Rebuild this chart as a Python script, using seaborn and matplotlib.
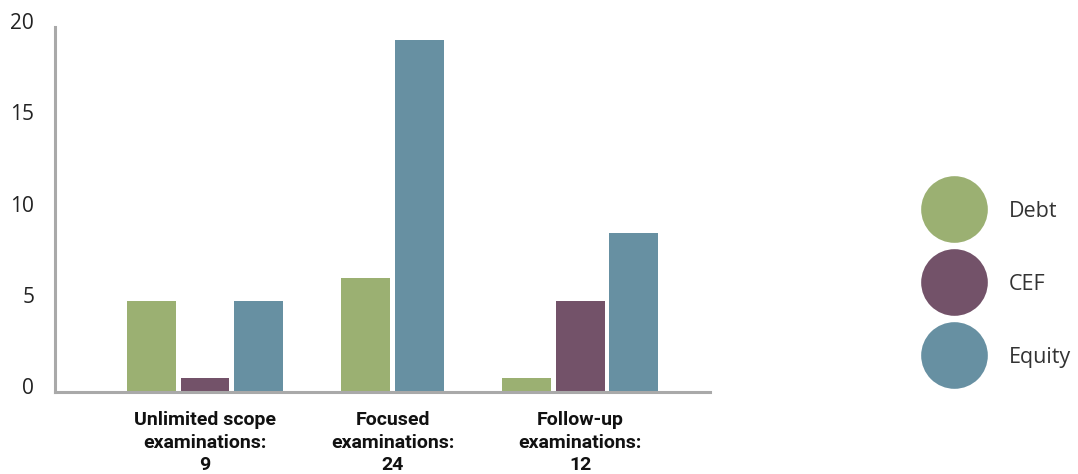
import matplotlib
matplotlib.use("Agg")
import matplotlib.pyplot as plt
import matplotlib.transforms as mtransforms
from matplotlib.lines import Line2D
import seaborn as sns
import pandas as pd
import numpy as np

# ---- data ----
groups = ["Unlimited scope\nexaminations:\n9",
          "Focused\nexaminations:\n24",
          "Follow-up\nexaminations:\n12"]
series = ["Debt", "CEF", "Equity"]
debt = [5.0, 6.25, 0.75]
cef = [0.75, None, 5.0]          # no CEF bar for focused examinations
equity = [5.0, 19.3, 8.7]
colors = ["#9bb072", "#735269", "#6790a2"]
yticks = [0, 5, 10, 15, 20]

sns.set_theme(style="white")
plt.rcParams["font.family"] = ["Open Sans", "DejaVu Sans"]

# build long table; bars present in a group are packed side by side around the group centre
step = 0.285
rows = []
values = {"Debt": debt, "CEF": cef, "Equity": equity}
for gi, g in enumerate(groups):
    present = [s for s in series if values[s][gi] is not None]
    n = len(present)
    for k, s in enumerate(present):
        rows.append({"pos": gi + (k - (n - 1) / 2) * step,
                     "value": values[s][gi], "series": s})
df = pd.DataFrame(rows)

fig = plt.figure(figsize=(10.78, 4.74), dpi=100)
ax = fig.add_axes([55 / 1078, 1 - 392 / 474, (710 - 55) / 1078, 365 / 474])

sns.barplot(data=df, x="pos", y="value", hue="series", hue_order=series,
            palette=colors, native_scale=True, dodge=False, width=0.916,
            saturation=1, legend=False, ax=ax, linewidth=0)

ax.set_xlim(-0.8, 2.693)
ax.set_ylim(0, 20)
ax.set_yticks(yticks)
ax.set_yticklabels([str(t) for t in yticks], fontsize=15, color="#222222")
ax.set_xticks([0, 1, 2])
ax.set_xticklabels(groups, fontsize=14, fontweight="bold", color="#111111",
                   linespacing=1.32, family=["Roboto", "DejaVu Sans"])
ax.tick_params(axis="y", length=0, pad=15)
ax.tick_params(axis="x", length=0, pad=14)
off = mtransforms.ScaledTranslation(0, 6 / 100, fig.dpi_scale_trans)
for lab in ax.get_yticklabels():
    lab.set_transform(lab.get_transform() + off)
ax.set_xlabel("")
ax.set_ylabel("")
for s in ["top", "right"]:
    ax.spines[s].set_visible(False)
for s in ["left", "bottom"]:
    ax.spines[s].set_color("#a9a9a9")
    ax.spines[s].set_linewidth(2.2)
ax.grid(False)

handles = [Line2D([], [], marker="o", linestyle="", markersize=48,
                  markerfacecolor=c, markeredgewidth=0) for c in colors]
fig.legend(handles, series, loc="center left", bbox_to_anchor=(0.847, 0.40),
           frameon=False, fontsize=15.5, labelspacing=2.42, handletextpad=1.55,
           handlelength=2.0, labelcolor="#333333")

fig.savefig("out.png", dpi=100, facecolor="white")
